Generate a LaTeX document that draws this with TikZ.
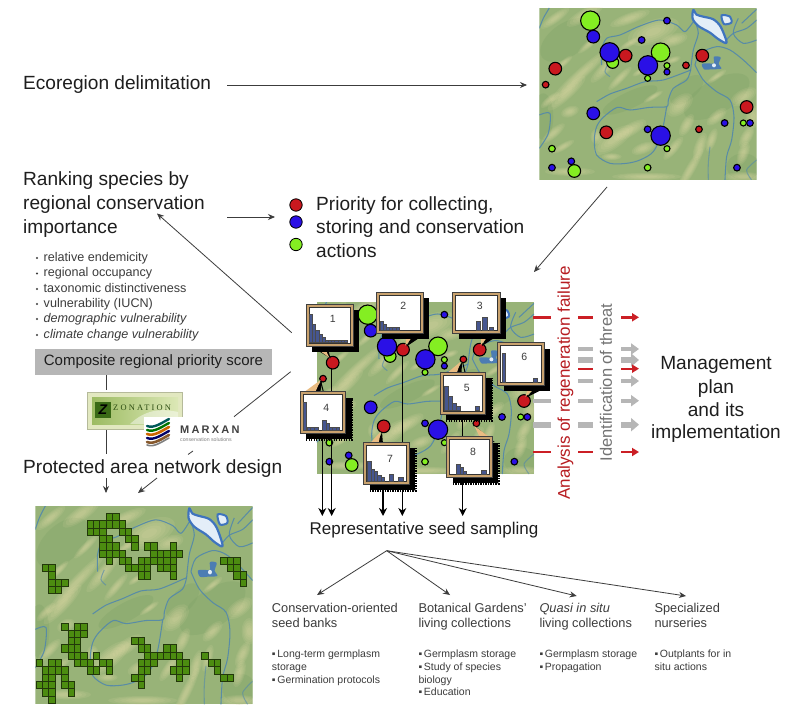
\documentclass[tikz,border=0pt]{standalone}
\usepackage{fontspec}
\setmainfont{Liberation Sans}
\newfontfamily\zonfont[LetterSpace=26]{Liberation Serif}
\newfontfamily\marfont[LetterSpace=20]{Liberation Sans}
\usetikzlibrary{arrows.meta,calc}
\definecolor{ink}{HTML}{1E1E1E}
\definecolor{soft}{HTML}{3C3C3C}
\definecolor{land}{HTML}{98B378}
\definecolor{ridge}{HTML}{EFE3B0}
\definecolor{deep}{HTML}{7FA268}
\definecolor{river}{HTML}{4F86AE}
\definecolor{lakeb}{HTML}{3F74BE}
\definecolor{lakew}{HTML}{E4EEF8}
\definecolor{cred}{HTML}{C9181F}
\definecolor{cblue}{HTML}{2A10E6}
\definecolor{cgreen}{HTML}{84EE22}
\definecolor{tanf}{HTML}{C9A26E}
\definecolor{tailf}{HTML}{E9BC82}
\definecolor{barf}{HTML}{46568F}
\definecolor{gsq}{HTML}{4C8C10}
\definecolor{gsqd}{HTML}{22380A}
\definecolor{dred}{HTML}{CB1F25}
\definecolor{lgray}{HTML}{B6B6B6}
\definecolor{zfr}{HTML}{E2E8C0}
\definecolor{zl}{HTML}{9CBB62}
\definecolor{zr}{HTML}{DCE8B6}
\definecolor{zd}{HTML}{3A6A16}
\tikzset{
  big/.style={inner sep=0,text height=14.1pt,text depth=4pt,text=ink,font=\fontsize{19.1}{22}\selectfont},
  lft/.style={anchor=west},
  bul/.style={anchor=west,inner sep=0,text height=9.3pt,text depth=2.7pt,text=soft,font=\fontsize{12.6}{15}\selectfont},
  col/.style={anchor=west,inner sep=0,text height=9.5pt,text depth=2.7pt,text=soft,font=\fontsize{12.8}{15}\selectfont},
  smal/.style={anchor=west,inner sep=0,text height=7.8pt,text depth=2.2pt,text=soft,font=\fontsize{10.5}{12}\selectfont},
  num/.style={inner sep=0,text=soft,font=\fontsize{10.5}{12}\selectfont},
  conn/.style={draw=soft,line width=.8pt},
  arr/.style={conn,-{Stealth[length=7pt,width=6pt]}},
  barr/.style={draw=black,line width=1.2pt,-{Stealth[length=8pt,width=8pt]}},
  riv/.style={draw=river,line width=1.05pt,line join=round,opacity=.85},
  redseg/.style={draw=dred,line width=2.4pt},
  redarr/.style={draw=dred,line width=2.4pt,-{Triangle[length=7pt,width=8pt]}},
  gs/.style={draw=lgray,line width=3.6pt},
  gt/.style={draw=lgray,line width=6.4pt},
  garr/.style={draw=lgray,line width=3.6pt,-{Triangle[length=8pt,width=11pt]}},
  gtarr/.style={draw=lgray,line width=6.4pt,-{Triangle[length=8pt,width=13pt]}},
}
\newcommand{\rdg}[5]{%
  \foreach \ss in {1.15,.95,.75,.55,.35}{%
    \fill[ridge,opacity=.11,rotate around={#5:(#1,#2)}] (#1,#2) ellipse [x radius=\ss*#3,y radius=\ss*#4];}}
\newcommand{\dkb}[5]{%
  \fill[deep,opacity=.35,rotate around={#5:(#1,#2)}] (#1,#2) ellipse [x radius=#3,y radius=#4];}
\newcommand{\terrain}{%
  \fill[land] (28,24) rectangle (680,540);
  \dkb{110}{120}{90}{50}{35}\dkb{560}{290}{110}{50}{30}\dkb{300}{300}{90}{25}{25}\dkb{40}{350}{30}{70}{0}
  \dkb{470}{270}{60}{30}{40}\dkb{640}{500}{50}{40}{0}
  \foreach \a/\b/\c/\d/\e in {
    370/95/70/30/20,430/120/38/16/15,300/55/55/14/20,165/45/55/16/30,75/55/45/12/35,
    150/225/100/14/42,110/280/65/15/42,230/200/58/14/45,270/235/42/10/45,120/335/24/14/20,
    70/400/38/12/40,100/440/32/9/30,250/420/60/22/35,300/390/48/16/30,340/445/32/14/20,
    245/470/26/9/0,450/315/40/22/40,470/375/32/14/60,430/445/38/12/50,510/440/38/14/70,
    560/350/32/14/40,545/420/32/12/70,640/290/38/18/30,650/410/32/14/60,640/460/32/14/70,
    350/530/90/10/0,480/510/65/12/60,120/515/65/11/0,370/290/28/7/30,200/410/16/20/0,
    60/300/30/10/40,180/130/40/9/40,640/530/50/12/0,300/130/30/8/30,670/350/20/30/0,
    560/230/30/8/35,100/190/30/8/40,330/215/22/7/30,430/180/20/8/20}
    {\rdg{\a}{\b}{\c}{\d}{\e}}
  \draw[riv] plot[smooth] coordinates {(215,195) (215,150) (230,115) (270,105) (330,78) (390,60) (440,75) (465,95) (492,62)};
  \draw[riv] plot[smooth] coordinates {(200,305) (240,282) (290,265) (345,245) (400,240) (470,215) (482,210)};
  \draw[riv] plot[smooth] coordinates {(482,210) (470,240) (430,265) (415,300) (410,320) (360,322) (300,330) (262,322) (220,352) (200,380) (193,420) (200,465) (240,490) (290,490) (330,480) (370,455) (395,400) (410,320)};
  \draw[riv] plot[smooth] coordinates {(495,195) (520,240) (560,275) (600,300) (612,350) (605,420) (590,470) (585,540)};
  \draw[riv] plot[smooth] coordinates {(495,65) (505,100) (490,150) (482,210)};
  \draw[riv] plot[smooth] coordinates {(495,195) (510,160) (560,140) (600,150) (640,180) (680,218)};
  \draw[riv] plot[smooth] coordinates {(585,125) (610,100) (650,85) (680,60)};
  \draw[riv] plot[smooth] coordinates {(625,55) (610,100) (640,130) (680,120)};
  \draw[riv] plot[smooth] coordinates {(635,70) (680,28)};
  \draw[riv] plot[smooth] coordinates {(28,85) (40,55) (58,24)};
  \draw[riv] plot[smooth] coordinates {(28,345) (60,340) (55,400) (28,445)};
  \draw[riv,opacity=.55] plot[smooth] coordinates {(540,440) (535,490) (535,540)};
  \draw[riv,opacity=.55] plot[smooth] coordinates {(680,480) (650,510) (665,540)};
  \draw[riv,opacity=.6] plot[smooth] coordinates {(235,190) (225,215) (240,230)};
  \fill[lakew,draw=lakeb,line width=2.2pt,line join=round] plot[smooth cycle] coordinates {(490,30) (500,44) (520,50) (550,58) (572,80) (590,128) (566,118) (540,98) (505,78) (488,56)};
  \fill[lakew,draw=lakeb,line width=2pt] plot[smooth cycle] coordinates {(575,46) (600,50) (604,68) (582,72)};
  \fill[lakeb,opacity=.85] plot[smooth cycle] coordinates {(552,170) (572,172) (566,192) (574,206) (545,208) (522,208) (516,192) (535,190) (552,190)};
  \fill[lakew] (552,196) circle [radius=6];
}
\newcommand{\themap}[4]{%
  \begin{scope}[shift={(#1,#2)},xscale=#3,yscale=#4,shift={(-28,-24)}]
    \begin{scope}
      \clip (28,24) rectangle (680,540);
      \terrain
    \end{scope}
  \end{scope}}
\newcommand{\bubbles}[2]{%
  \begin{scope}[shift={(#1,#2)},scale=1/3,shift={(-28,-24)}]
    \foreach \x/\y/\r/\c in {
      181/62/29/cgreen,190/110/19/cblue,411/62/10/cblue,335/120/10/cblue,248/187/18/cgreen,239/157/29/cblue,
      287/167/19/cred,392/157/28/cgreen,354/196/29/cblue,411/197/9/cgreen,411/216/9/cblue,353/235/9/cgreen,
      468/196/10/cred,517/167/19/cred,76/206/19/cred,47/254/10/cred,650/321/19/cred,190/340/19/cblue,
      229/397/19/cred,353/388/10/cblue,392/407/29/cblue,411/446/9/cgreen,507/388/10/cred,584/369/10/cblue,
      640/369/9/cgreen,660/369/10/cblue,66/446/10/cgreen,124/484/10/cblue,66/503/10/cblue,133/513/19/cgreen,
      353/503/10/cgreen,621/503/10/cblue}
      {\filldraw[fill=\c,draw=black,line width=1.1pt] (\x,\y) circle [radius=\r];}
  \end{scope}}
% popup in z2 coordinates
\newcommand{\popup}[5]{% x0 y0 x1 y1 name
  \fill[black] (#1+18,#2+18) rectangle (#3+18,#4+18);
  \filldraw[fill=tanf,draw=black!75,line width=.6pt] (#1,#2) rectangle (#3,#4);
  \filldraw[fill=white,draw=black!80,line width=.7pt] (#1+9,#2+9) rectangle (#3-9,#4-9);}
\newcommand{\scal}[4]{% scalloped edge of a shadow
  \draw[black,line width=2.6pt,dash pattern=on 1.4pt off 1.1pt] (#1+18,#4+19) -- (#3+19,#4+19) -- (#3+19,#2+18);}
\newcommand{\tail}[6]{%
  \fill[black] (#1+14,#2+14) -- (#3+14,#4+14) -- (#5+4,#6+2) -- cycle;
  \fill[tailf] (#1,#2) -- (#3,#4) -- (#5,#6) -- cycle;}
\newcommand{\hb}[4]{\filldraw[fill=barf,draw=black!70,line width=.35pt] (#1,#4) rectangle (#1+#2,#4-#3);}
\begin{document}
\begin{tikzpicture}[x=1pt,y=-1pt]
\useasboundingbox (0,0) rectangle (800,714);
\fill[white] (0,0) rectangle (800,714);

% ---- maps
\themap{539.3}{8}{1/3}{1/3}
\bubbles{539.3}{8}
\themap{316.7}{302}{1/3}{1/3}
\bubbles{316.7}{302}
\themap{35.3}{506}{1/3}{.3843}

% ---- planning squares on the lower map
\begin{scope}[shift={(36,513.3)},x=6.37pt,y=-7.3pt]
  \foreach \r/\cols in {
    0/{11,12},1/{8,9,10,11,12,13},2/{8,9,10,13,14},3/{10,11,14,15},4/{10,11,12,15,17,18,21},
    5/{10,11,12,13,18,19,20,21,22},6/{11,13,14,16,17,18,19,20,21,29,30,31},
    7/{1,2,14,15,16,17,19,20,21,30,31},8/{2,16,17,21,31,32},9/{2,3,4,32},10/{2,3},
    15/{4,6,7},16/{5,6,7},17/{5,6,15,16},18/{4,5,6,16,17,20,21},
    19/{5,6,7,9,17,18,19,20,21,22,26},20/{0,2,3,6,7,8,10,11,16,17,18,22,23,27,28},
    21/{1,2,3,4,8,9,11,16,17,21,22,23,28},22/{1,2,4,15,16,22,29,30},23/{0,1,2,4,5,16},
    24/{1,2,5},25/{2}}
  {\foreach \c in \cols {
      \filldraw[fill=gsq,draw=gsqd,line width=.5pt]
        (\c,\r) rectangle ++(1,1);}}
\end{scope}

% ---- named anchor points on the centre map (3x coordinates of the crop)
\begin{scope}[shift={(290,280)},scale=1/3]
  \coordinate (cA) at (125,263);
  \coordinate (cB) at (337,227);
  \coordinate (pD) at (97,460);
  \coordinate (pG) at (279,600);
  \coordinate (pE) at (518,400);
  \coordinate (eA) at (125,708);
  \coordinate (eD) at (97,708);
  \coordinate (eG) at (279,708);
  \coordinate (eB) at (337,708);
  \coordinate (eE) at (518,708);
  \draw[barr] (cA) -- (eA);
  \draw[barr] (pD) -- (eD);
  \draw[barr] (pG) -- (eG);
  \draw[barr] (cB) -- (eB);
  \draw[barr] (pE) -- (eE);

  \tail{65}{195}{100}{195}{118}{233}
  \popup{48}{73}{190}{198}{p1}
  \hb{58}{9.5}{85}{188}\hb{67.5}{9.5}{55}{188}\hb{77}{9.5}{38}{188}\hb{86.5}{9.5}{25}{188}\hb{96}{9.5}{15}{188}
  \foreach \i in {105.5,115,124.5,134,143.5,153,162.5}{\hb{\i}{9.5}{8}{188}}
  \node[num] (n1) at (128,117) {1};

  \tail{350}{157}{378}{157}{346}{197}
  \popup{258}{36}{400}{160}{p2}
  \hb{270}{9.5}{28}{151}\hb{279.5}{9.5}{18}{151}\hb{289}{9.5}{10}{151}
  \foreach \i in {298.5,308,317.5}{\hb{\i}{11}{8}{151}}
  \node[num] (n2) at (340,77) {2};

  \tail{575}{157}{603}{157}{572}{196}
  \popup{488}{36}{630}{160}{p3}
  \hb{558}{12}{28}{151}\hb{577}{15}{38}{151}\hb{598}{12}{10}{151}
  \node[num] (n3) at (569,77) {3};

  \tail{718}{312}{748}{312}{706}{350}
  \popup{623}{188}{763}{315}{p6}
  \hb{636}{9}{87}{306}\hb{730}{12}{10}{306}
  \node[num] (n6) at (703,230) {6};

  \tail{470}{280}{500}{280}{512}{245}
  \draw[black,line width=1pt] (518,247) -- (525,277);
  \scal{450}{277}{587}{402}
  \popup{450}{277}{587}{402}{p5}
  \hb{462}{12}{72}{392}\hb{475}{12}{42}{392}\hb{488}{12}{22}{392}\hb{500}{10}{12}{392}\hb{556}{12}{12}{392}
  \node[num] (n5) at (530,325) {5};

  \tail{40}{338}{75}{338}{92}{300}
  \draw[black,line width=1pt] (92,304) -- (100,335);
  \scal{30}{335}{167}{460}
  \popup{30}{335}{167}{460}{p4}
  \hb{40}{10}{85}{451}\hb{52}{10}{8}{451}\hb{62}{10}{8}{451}\hb{74}{10}{8}{451}
  \hb{96}{12}{30}{451}\hb{108}{10}{20}{451}\hb{118}{10}{10}{451}\hb{128}{10}{8}{451}\hb{138}{10}{8}{451}
  \node[num] (n4) at (109,385) {4};

  \tail{240}{490}{266}{490}{272}{455}
  \scal{221}{487}{358}{613}
  \popup{221}{487}{358}{613}{p7}
  \hb{233}{10}{60}{603}\hb{243}{10}{35}{603}\hb{253}{10}{30}{603}\hb{263}{10}{18}{603}\hb{273}{10}{10}{603}
  \hb{297}{12}{20}{603}\hb{326}{14}{12}{603}
  \node[num] (n7) at (300,537) {7};

  \tail{570}{472}{600}{472}{553}{438}
  \scal{470}{470}{606}{592}
  \popup{470}{470}{606}{592}{p8}
  \hb{498}{12}{30}{583}\hb{510}{10}{20}{583}\hb{520}{10}{10}{583}\hb{575}{15}{12}{583}
  \node[num] (n8) at (549,517) {8};
\end{scope}

% ---- left column and top labels
\node[big,lft] (eco) at (23,84) {Ecoregion delimitation};
\coordinate (ecoS) at (227,85); \coordinate (ecoE) at (527,85);
\draw[arr] (ecoS) -- (ecoE);
\coordinate (mapA) at (607,187); \coordinate (mapB) at (534,272);
\draw[arr] (mapA) -- (mapB);

\node[big,lft] (rk1) at (23,180) {Ranking species by};
\node[big,lft] (rk2) at (23,204) {regional conservation};
\node[big,lft] (rk3) at (23,228) {importance};
\coordinate (rkS) at (227,217); \coordinate (rkE) at (275,217);
\draw[arr] (rkS) -- (rkE);

\filldraw[fill=cred,draw=black,line width=.8pt] (296,205) circle [radius=6.2];
\filldraw[fill=cblue,draw=black,line width=.8pt] (296,222) circle [radius=6.2];
\filldraw[fill=cgreen,draw=black,line width=.8pt] (296,244.5) circle [radius=6.2];
\node[big,lft] (pr1) at (316,205) {Priority for collecting,};
\node[big,lft] (pr2) at (316,228) {storing and conservation};
\node[big,lft] (pr3) at (316,252) {actions};

\foreach \n/\y/\t in {a/258/relative endemicity,b/273.5/regional occupancy,c/289/taxonomic distinctiveness,d/304/vulnerability (IUCN),e/319/\itshape demographic vulnerability,f/335/\itshape climate change vulnerability}{
  \fill[soft] (37,\y) circle [radius=1.2];
  \node[bul] (bl\n) at (43.5,\y) {\t};}

\node[fill=lgray,draw=none,minimum width=236.5pt,minimum height=26pt,inner sep=0,text=ink,font=\fontsize{15}{17}\selectfont] (score) at (153.5,362) {Composite regional priority score};

\coordinate (zTop) at (106,375); \coordinate (zA) at (106,390); \coordinate (zB) at (106,429); \coordinate (zC) at (106,454); \coordinate (zD) at (106,478); \coordinate (zE) at (106,493);
\draw[conn] (zTop) -- (zA);
\draw[conn] (zB) -- (zC);
\draw[arr] (zD) -- (zE);

% Zonation logo
\filldraw[fill=zfr,draw=zfr!80!black,line width=.6pt] (87.5,392) rectangle (182,429);
\shade[left color=zl,right color=zr] (92,397) rectangle (178,424);
\fill[white,opacity=.45] (130,424) .. controls (145,410) and (160,408) .. (178,412) -- (178,424) -- cycle;
\node[fill=zd,text=black,inner sep=0,minimum size=15.5pt,font=\bfseries\itshape\fontsize{14}{14}\selectfont] (zl) at (103,410) {Z};
\node[anchor=west,inner sep=0,text=zd!70!black,font=\zonfont\fontsize{8.4}{9}\selectfont] (zn) at (113,408) {ZONATION};

% Marxan logo
\fill[white] (144,417) rectangle (243,449);
\begin{scope}[shift={(158,432)}]
  \foreach \dy/\c/\w in {-9/teal!70!black/2.4,-5/green!45!black/2.4,-1/orange!80!black/2.6,3/blue!40!black/2.4,7/brown!70!black/2.6,10/gray/1.6}{
    \draw[\c,line width=\w pt,line cap=round] (-11,\dy+3) .. controls (-4,\dy+6) and (5,\dy-1) .. (11,\dy-4);}
\end{scope}
\node[anchor=west,inner sep=0,text=black!75,font=\marfont\bfseries\fontsize{11}{11}\selectfont] (mx) at (180,430) {MARXAN};
\node[anchor=west,inner sep=0,text=black!50,font=\fontsize{5.2}{6}\selectfont] (mxs) at (180,440) {conservation solutions};

\node[big,lft] (pa) at (23,468) {Protected area network design};

\coordinate (gA) at (291.7,332.7); \coordinate (gB) at (157,213.5);
\draw[arr] (gA) -- (gB);
\coordinate (hA) at (290.7,371.7); \coordinate (hB) at (234,416.7);
\draw[conn] (hA) -- (hB);
\coordinate (hC) at (193,451); \coordinate (hD) at (188,454.5);
\draw[conn] (hC) -- (hD);
\coordinate (hE) at (157,478); \coordinate (hF) at (138,493);
\draw[arr] (hE) -- (hF);

% ---- right side
\foreach \y in {317.3,452}{
  \draw[redseg] (533,\y) -- (550.7,\y);
  \draw[redseg] (578,\y) -- (593,\y);
  \draw[redarr] (621,\y) -- (639,\y);}
\draw[gs] (578,349) -- (593,349);
\draw[garr] (621,349) -- (639,349);
\draw[gt] (578,360) -- (593,360);
\draw[gtarr] (621,360) -- (639,360);
\draw[gs] (578,381) -- (593,381);
\draw[garr] (621,381) -- (639,381);
\draw[gs] (533,400.7) -- (550.7,400.7);
\draw[gs] (578,400.7) -- (593,400.7);
\draw[garr] (621,400.7) -- (639,400.7);
\draw[gt] (533,424.7) -- (550.7,424.7);
\draw[gt] (578,424.7) -- (593,424.7);
\draw[gtarr] (621,424.7) -- (639,424.7);
\draw[redseg] (578,368.7) -- (593,368.7);
\draw[redarr] (621,368.7) -- (639,368.7);

\node[inner sep=0,rotate=90,text=dred!90!black,font=\fontsize{17}{20}\selectfont] (ana) at (565.5,383) {Analysis of regeneration failure};
\node[inner sep=0,rotate=90,text=black!55,font=\fontsize{16.5}{20}\selectfont] (idn) at (606,382.5) {Identification of threat};

\node[big] (m1) at (716,364) {Management};
\node[big] (m2) at (716,388) {plan};
\node[big] (m3) at (716,411) {and its};
\node[big] (m4) at (716,433) {implementation};

% ---- seed sampling
\node[inner sep=0,text=ink,font=\fontsize{17}{20}\selectfont] (seed) at (424,530) {Representative seed sampling};
\coordinate (fan) at (386.7,550.7);
\coordinate (f1) at (317,595); \coordinate (f2) at (450,595); \coordinate (f3) at (576.7,596); \coordinate (f4) at (686,596);
\draw[arr] (fan) -- (f1);
\draw[arr] (fan) -- (f2);
\draw[arr] (fan) -- (f3);
\draw[arr] (fan) -- (f4);

\node[col] (c11) at (271.7,609.3) {Conservation-oriented};
\node[col] (c12) at (271.7,624.3) {seed banks};
\node[col] (c21) at (418.3,609.3) {Botanical Gardens'};
\node[col] (c22) at (418.3,624.3) {living collections};
\node[col] (c31) at (539.3,609.3) {\itshape Quasi in situ};
\node[col] (c32) at (539.3,624.3) {living collections};
\node[col] (c41) at (654.3,609.3) {Specialized};
\node[col] (c42) at (654.3,624.3) {nurseries};

\node[smal] (s11) at (271.7,655) {▪\,Long-term germplasm};
\node[smal] (s12) at (271.7,667.7) {storage};
\node[smal] (s13) at (271.7,680.3) {▪\,Germination protocols};
\node[smal] (s21) at (418.3,655) {▪\,Germplasm storage};
\node[smal] (s22) at (418.3,667.7) {▪\,Study of species};
\node[smal] (s23) at (418.3,680.3) {biology};
\node[smal] (s24) at (418.3,693) {▪\,Education};
\node[smal] (s31) at (539.3,655) {▪\,Germplasm storage};
\node[smal] (s32) at (539.3,667.7) {▪\,Propagation};
\node[smal] (s41) at (654.3,655) {▪\,Outplants for in};
\node[smal] (s42) at (654.3,667.7) {situ actions};
\end{tikzpicture}
\end{document}
